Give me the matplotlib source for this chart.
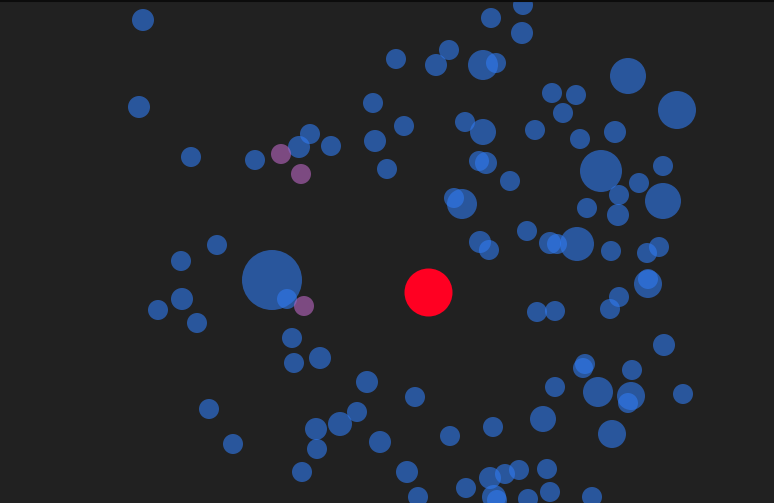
import matplotlib
matplotlib.use("Agg")
import matplotlib.pyplot as plt
import numpy as np

# Blue bubbles: x, y (pixel space), radius
blue_x = [143, 139, 191, 255, 299, 310, 331, 373, 375, 387, 217, 181, 272, 287,
          523, 491, 522, 396, 449, 436, 483, 496, 628, 677, 552, 576, 563, 404,
          465, 483, 535, 580, 615, 479, 486, 510, 601, 663, 639, 619, 663, 587,
          618, 454, 462, 527, 480, 489, 550, 557, 577, 611, 647, 659,
          182, 158, 197, 292, 294, 320, 367, 209, 233, 357, 340, 316, 317, 302, 380,
          415, 537, 555, 619, 610, 648, 648, 664, 585, 583, 632, 555, 598, 631, 628,
          683, 543, 493, 450, 612, 407, 418, 466, 490, 505, 519, 547, 550, 494, 497,
          528, 592]
blue_y = [20, 107, 157, 160, 147, 134, 146, 103, 141, 169, 245, 261, 280, 299,
          5, 18, 33, 59, 50, 65, 65, 63, 76, 110, 93, 95, 113, 126,
          122, 132, 130, 139, 132, 161, 163, 181, 171, 166, 183, 195, 201, 208,
          215, 198, 204, 231, 242, 250, 243, 244, 244, 251, 253, 247,
          299, 310, 323, 338, 363, 358, 382, 409, 444, 412, 424, 429, 449, 472, 442,
          397, 312, 311, 297, 309, 284, 279, 345, 364, 368, 370, 387, 392, 396, 403,
          394, 419, 427, 436, 434, 472, 497, 488, 478, 474, 470, 469, 492, 497, 500,
          499, 497]
blue_r = [11, 11, 10, 10, 11, 10, 10, 10, 11, 10, 10, 10, 30, 10,
          10, 10, 11, 10, 10, 11, 15, 10, 18, 19, 10, 10, 10, 10,
          10, 13, 10, 10, 11, 10, 11, 10, 21, 10, 10, 10, 18, 10,
          11, 10, 15, 10, 11, 10, 11, 10, 17, 10, 10, 10,
          11, 10, 10, 10, 10, 11, 11, 10, 10, 10, 12, 11, 10, 10, 11,
          10, 10, 10, 10, 10, 14, 10, 11, 10, 10, 10, 10, 15, 14, 10,
          10, 13, 10, 10, 14, 11, 10, 10, 11, 10, 10, 10, 10, 12, 10,
          10, 10]

# Purple bubbles
purple_x = [281, 301, 304]
purple_y = [154, 174, 306]
purple_r = [10, 10, 10]

# Red (focus) bubble
red_x = [428]
red_y = [292]
red_r = [24]

W, H = 774, 503
fig = plt.figure(figsize=(W / 100, H / 100), dpi=100)
fig.patch.set_facecolor("#212121")
ax = fig.add_axes([0, 0, 1, 1])
ax.set_facecolor("#212121")
ax.set_xlim(0, W)
ax.set_ylim(H, 0)
ax.axis("off")


def area(r):
    return (2 * np.asarray(r) * 72 / 100.0) ** 2


ax.scatter(blue_x, blue_y, s=area(blue_r), color=(48 / 255, 122 / 255, 240 / 255),
           alpha=0.6, linewidths=0)
ax.scatter(purple_x, purple_y, s=area(purple_r), color=(186 / 255, 102 / 255, 194 / 255),
           alpha=0.6, linewidths=0)
ax.scatter(red_x, red_y, s=area(red_r), color="#ff0022", alpha=1.0, linewidths=0)

ax.axhline(0.5, color="#0c0c0c", linewidth=1.5)

fig.savefig("out.png", dpi=100, facecolor=fig.get_facecolor())
